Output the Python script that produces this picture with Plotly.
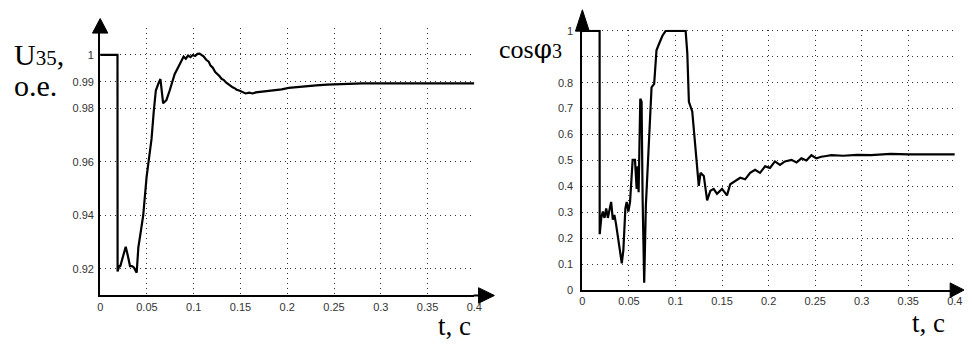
import plotly.graph_objects as go

# ---------------- data ----------------
t_u = [0, 0.0185, 0.0186, 0.0203, 0.0215, 0.0245, 0.0273, 0.0295, 0.0319, 0.034, 0.036,
       0.039, 0.0408, 0.043, 0.046, 0.0496, 0.0549, 0.0573, 0.0595, 0.062, 0.0644,
       0.0673, 0.0708, 0.0743, 0.0796, 0.0849, 0.0872, 0.0892, 0.0915, 0.094, 0.0965,
       0.0991, 0.1015, 0.1040, 0.1062, 0.1085, 0.1105, 0.1133, 0.1160, 0.1180, 0.1204,
       0.1230, 0.1250, 0.1274, 0.1300, 0.1320, 0.1345, 0.1370, 0.1390, 0.1416, 0.1440,
       0.1460, 0.1486, 0.1520, 0.1555, 0.1592, 0.1630, 0.1664, 0.1720, 0.1780, 0.1860,
       0.1940, 0.2017, 0.2110, 0.2210, 0.2310, 0.2425, 0.2540, 0.2670, 0.2800, 0.3000,
       0.3500, 0.4000]
u35 = [1.0, 1.0, 0.9190, 0.9210, 0.9210, 0.9250, 0.9282, 0.9250, 0.9210, 0.9210, 0.9205,
       0.9185, 0.9280, 0.9330, 0.9400, 0.9543, 0.9686, 0.9790, 0.9867, 0.9891, 0.9910,
       0.9819, 0.9831, 0.9867, 0.9928, 0.9964, 0.9978, 0.9994, 0.9986, 0.9998, 0.9992,
       1.0000, 0.9996, 1.0004, 1.0005, 0.9999, 0.9995, 0.9982, 0.9975, 0.9960, 0.9952,
       0.9936, 0.9930, 0.9921, 0.9910, 0.9907, 0.9897, 0.9890, 0.9888, 0.9879, 0.9875,
       0.9870, 0.9867, 0.9862, 0.9856, 0.9859, 0.9856, 0.9860, 0.9862, 0.9864, 0.9868,
       0.9871, 0.9877, 0.9880, 0.9885, 0.9886, 0.9889, 0.9891, 0.9893, 0.9894, 0.9894,
       0.9894, 0.9894]

t_c = [0, 0.0185, 0.0186, 0.0203, 0.0220, 0.0238, 0.0256, 0.0274, 0.0291, 0.0309, 0.0327,
       0.0344, 0.0362, 0.0398, 0.0423, 0.0440, 0.0462, 0.0476, 0.0494, 0.0512, 0.0540,
       0.0565, 0.0583, 0.0594, 0.0604, 0.0622, 0.0636, 0.0647, 0.0664, 0.0682, 0.0718,
       0.0743, 0.0771, 0.0796, 0.0824, 0.0860, 0.0895, 0.1000, 0.1109, 0.1127, 0.1144,
       0.1180, 0.1215, 0.1233, 0.1250, 0.1269, 0.1304, 0.1340, 0.1375, 0.1410, 0.1446,
       0.1500, 0.1553, 0.1588, 0.1642, 0.1695, 0.1748, 0.1802, 0.1855, 0.1908, 0.1962,
       0.2015, 0.2068, 0.2122, 0.2175, 0.2246, 0.2300, 0.2352, 0.2406, 0.2460, 0.2513,
       0.2566, 0.2620, 0.2673, 0.2800, 0.2950, 0.3100, 0.3310, 0.3500, 0.3670, 0.3850,
       0.4000]
cos_phi = [1.0, 1.0, 0.215, 0.278, 0.303, 0.278, 0.315, 0.278, 0.309, 0.340, 0.271,
           0.290, 0.253, 0.166, 0.103, 0.153, 0.315, 0.340, 0.303, 0.340, 0.502,
           0.502, 0.390, 0.477, 0.377, 0.738, 0.726, 0.352, 0.028, 0.327, 0.589,
           0.782, 0.795, 0.925, 0.950, 0.981, 1.0, 1.0, 1.0, 0.913, 0.726,
           0.689, 0.552, 0.452, 0.402, 0.452, 0.440, 0.346, 0.383, 0.390, 0.371,
           0.390, 0.365, 0.408, 0.421, 0.433, 0.427, 0.452, 0.464, 0.452, 0.477,
           0.471, 0.496, 0.483, 0.496, 0.502, 0.492, 0.508, 0.500, 0.520, 0.508,
           0.514, 0.517, 0.520, 0.518, 0.521, 0.520, 0.525, 0.523, 0.523, 0.524,
           0.523]

x_ticks = [0, 0.05, 0.1, 0.15, 0.2, 0.25, 0.3, 0.35, 0.4]
x_tick_text = ["0", "0.05", "0.1", "0.15", "0.2", "0.25", "0.3", "0.35", "0.4"]
u_ticks = [0.92, 0.94, 0.96, 0.98, 0.99, 1.0]
u_tick_text = ["0.92", "0.94", "0.96", "0.98", "0.99", "1"]
c_ticks = [0, 0.1, 0.2, 0.3, 0.4, 0.5, 0.6, 0.7, 0.8, 0.9, 1.0]
c_tick_text = ["0", "0.1", "0.2", "0.3", "0.4", "0.5", "0.6", "0.7", "0.8", "", "1"]

# ---------------- figure ----------------
W, H = 973, 347
def px(x):
    return x / W
def py(y):
    return 1 - y / H

serif = "Liberation Serif"

fig = go.Figure()
fig.add_trace(go.Scatter(x=t_u, y=u35, mode="lines", xaxis="x", yaxis="y",
                         line=dict(color="black", width=2.2), showlegend=False))
fig.add_trace(go.Scatter(x=t_c, y=cos_phi, mode="lines", xaxis="x2", yaxis="y2",
                         line=dict(color="black", width=2.2), showlegend=False))

tick_font = dict(family="Liberation Sans", size=11, color="#333")
grid = dict(showgrid=True, gridcolor="#333", gridwidth=1, griddash="1px,4px",
            zeroline=False, showline=True, linecolor="black", linewidth=2,
            ticks="", tickfont=tick_font)

fig.update_layout(
    width=W, height=H, margin=dict(l=0, r=0, t=0, b=0),
    paper_bgcolor="white", plot_bgcolor="white",
    font=dict(family=serif),
    xaxis=dict(domain=[px(98.3), px(476.7)], range=[0, 0.4], anchor="y",
               tickvals=x_ticks, ticktext=x_tick_text, **grid),
    yaxis=dict(domain=[py(300), py(24)], range=[0.91, 1.01], anchor="x",
               tickvals=u_ticks, ticktext=u_tick_text, ticklabelstandoff=2, **grid),
    xaxis2=dict(domain=[px(586), px(962.7)], range=[0, 0.4], anchor="y2",
                tickvals=x_ticks, ticktext=x_tick_text, **grid),
    yaxis2=dict(domain=[py(294.3), py(25.6)], range=[0, 1.004], anchor="x2",
                tickvals=c_ticks, ticktext=c_tick_text, ticklabelstandoff=5, **grid),
)

shapes = []
def line(x0, y0, x1, y1):
    shapes.append(dict(type="line", xref="paper", yref="paper",
                       x0=px(x0), y0=py(y0), x1=px(x1), y1=py(y1),
                       line=dict(color="black", width=2)))
def tri(pts):
    p = "M " + " L ".join(f"{px(a)},{py(b)}" for a, b in pts) + " Z"
    shapes.append(dict(type="path", xref="paper", yref="paper", path=p,
                       fillcolor="black", line=dict(color="black", width=1)))

# left axes extensions + arrows
line(98.3, 26, 98.3, 20)
tri([(90.5, 29), (106, 29), (98.3, 14)])
line(476, 300, 484, 300)
tri([(481, 292), (481, 308), (497, 300)])
# right axes extensions + arrows
line(586, 28, 586, 20)
tri([(579, 27), (593, 27), (586, 5)])
line(962, 294.3, 960, 294.3)
tri([(958, 287), (958, 302), (972, 294.3)])

fig.update_layout(shapes=shapes)

ann = []
def text(s, x, y, size):
    ann.append(dict(text=s, xref="paper", yref="paper", x=px(x), y=py(y),
                    xanchor="left", yanchor="middle", showarrow=False,
                    font=dict(family=serif, size=size, color="black")))
text("U<span style='font-size:21px'>35</span>,", 9, 51, 30)
text("o.e.", 9, 83, 30)
text("cos<span style='font-family:DejaVu Serif'>φ</span>"
     "<span style='font-size:20px'>3</span>", 500, 45, 26)
text("t, c", 438, 332, 27)
text("t, c", 917, 328, 27)
fig.update_layout(annotations=ann)

fig.write_html("out.html")
